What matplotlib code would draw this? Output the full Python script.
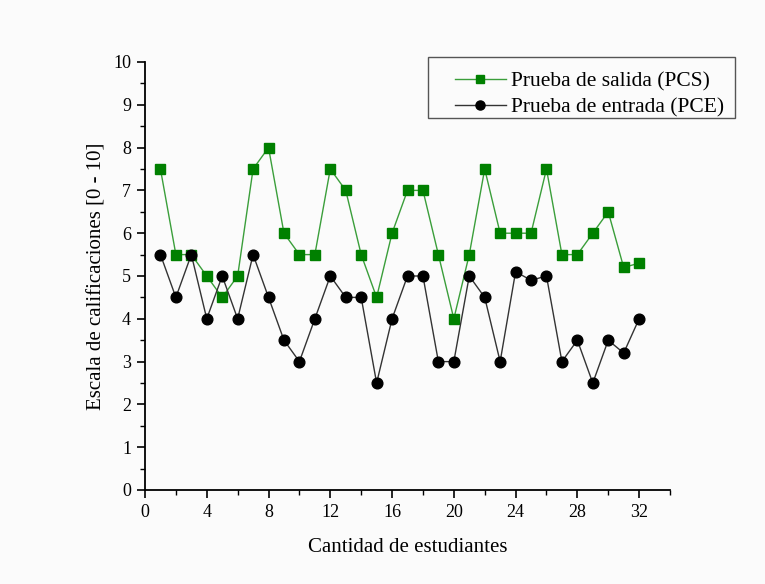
import matplotlib
matplotlib.use("Agg")
import matplotlib.pyplot as plt
from matplotlib.ticker import MultipleLocator
from matplotlib.patches import Rectangle

estudiantes = list(range(1, 33))
pcs = [7.5, 5.5, 5.5, 5.0, 4.5, 5.0, 7.5, 8.0, 6.0, 5.5, 5.5, 7.5, 7.0, 5.5, 4.5, 6.0,
       7.0, 7.0, 5.5, 4.0, 5.5, 7.5, 6.0, 6.0, 6.0, 7.5, 5.5, 5.5, 6.0, 6.5, 5.2, 5.3]
pce = [5.5, 4.5, 5.5, 4.0, 5.0, 4.0, 5.5, 4.5, 3.5, 3.0, 4.0, 5.0, 4.5, 4.5, 2.5, 4.0,
       5.0, 5.0, 3.0, 3.0, 5.0, 4.5, 3.0, 5.1, 4.9, 5.0, 3.0, 3.5, 2.5, 3.5, 3.2, 4.0]
x_ticks = [0, 4, 8, 12, 16, 20, 24, 28, 32]
y_ticks = list(range(0, 11))

plt.rcParams['font.family'] = ['Liberation Serif', 'DejaVu Serif']

bg = '#fbfbfb'
fig = plt.figure(figsize=(7.65, 5.84), dpi=100)
fig.patch.set_facecolor(bg)
ax = fig.add_axes([145/765, 1-490/584, (670-145)/765, (490-62)/584])
ax.set_facecolor(bg)

h1, = ax.plot(estudiantes, pcs, color='#3a9e3a', lw=1.0, marker='s', ms=6.6,
              mfc='#008000', mec='#008000', label='Prueba de salida (PCS)')
h2, = ax.plot(estudiantes, pce, color='#333333', lw=1.0, marker='o', ms=7.7,
              mfc='black', mec='black', label='Prueba de entrada (PCE)')

ax.set_xlim(0, 34)
ax.set_ylim(0, 10)
ax.set_xticks(x_ticks)
ax.set_yticks(y_ticks)
ax.xaxis.set_minor_locator(MultipleLocator(2))
ax.yaxis.set_minor_locator(MultipleLocator(0.5))
ax.tick_params(which='major', direction='out', length=6, width=1.2, labelsize=13, pad=4)
ax.tick_params(which='minor', direction='out', length=3.5, width=1.0)
for s in ['top', 'right']:
    ax.spines[s].set_visible(False)
for s in ['left', 'bottom']:
    ax.spines[s].set_linewidth(1.3)

ax.set_xlabel('Cantidad de estudiantes', fontsize=15, labelpad=12)
ax.set_ylabel('Escala de calificaciones [0 - 10]', fontsize=15, labelpad=5)

rect = Rectangle((428/765, 1-118/584), (735-428)/765, (118-57)/584,
                 transform=fig.transFigure, facecolor=bg, edgecolor='#555555',
                 lw=1.0, zorder=4)
fig.add_artist(rect)

leg = fig.legend(handles=[h1, h2], loc='center left',
                 bbox_to_anchor=(455/765, 1-94.5/584), fontsize=15.5, frameon=False,
                 handlelength=2.35, borderpad=0, labelspacing=0.3,
                 handletextpad=0.25, borderaxespad=0, markerscale=0.85)
leg.set_zorder(5)

fig.savefig('out.png', dpi=100, facecolor=fig.get_facecolor())
